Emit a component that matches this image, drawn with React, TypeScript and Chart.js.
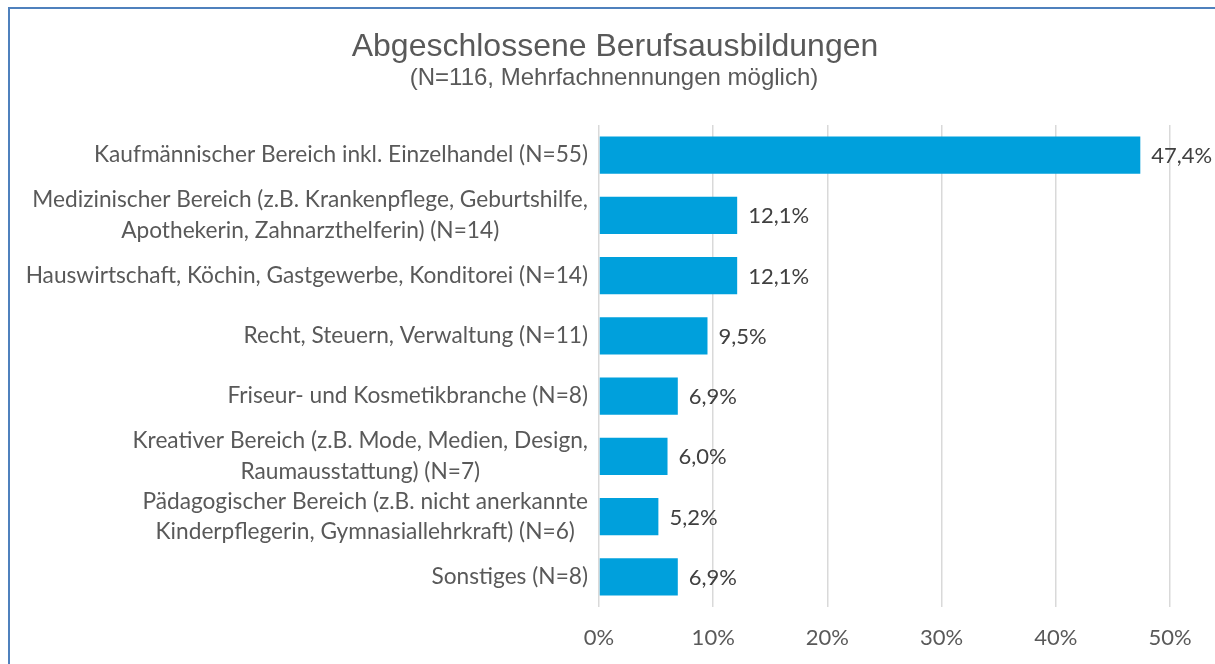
import { useEffect, useRef } from 'react';
import { Chart, registerables } from 'chart.js';

Chart.register(...registerables);

const TITLE = 'Abgeschlossene Berufsausbildungen';
const SUBTITLE = '(N=116, Mehrfachnennungen möglich)';

const categories: string[][] = [
  ['Kaufmännischer Bereich inkl. Einzelhandel (N=55)'],
  ['Medizinischer Bereich (z.B. Krankenpflege, Geburtshilfe,', 'Apothekerin, Zahnarzthelferin) (N=14)'],
  ['Hauswirtschaft, Köchin, Gastgewerbe, Konditorei (N=14)'],
  ['Recht, Steuern, Verwaltung (N=11)'],
  ['Friseur- und Kosmetikbranche (N=8)'],
  ['Kreativer Bereich (z.B. Mode, Medien, Design,', 'Raumausstattung) (N=7)'],
  ['Pädagogischer Bereich (z.B. nicht anerkannte', 'Kinderpflegerin, Gymnasiallehrkraft) (N=6)'],
  ['Sonstiges (N=8)'],
];

const values: number[] = [47.4, 12.1, 12.1, 9.5, 6.9, 6.0, 5.2, 6.9];

const X_MIN = 0;
const X_MAX = 50;
const X_STEP = 10;

const FONT = 'Lato, "Open Sans", sans-serif';
const TITLE_FONT = '"Liberation Sans", Arial, sans-serif';
const TEXT = '#595959';
const BAR = '#00A0DC';
const GRID = '#D9D9D9';

const fmt = (v: number) => v.toFixed(1).replace('.', ',') + '%';

const overlayPlugin = {
  id: 'overlay',
  afterDraw(chart: any) {
    const ctx = chart.ctx as CanvasRenderingContext2D;
    const area = chart.chartArea;
    const yScale = chart.scales.y;
    const xScale = chart.scales.x;
    ctx.save();
    // title
    ctx.fillStyle = TEXT;
    ctx.textAlign = 'center';
    ctx.textBaseline = 'middle';
    ctx.font = `32px ${TITLE_FONT}`;
    ctx.fillText(TITLE, 615, 47);
    ctx.font = `24px ${TITLE_FONT}`;
    ctx.fillText(SUBTITLE, 614, 78);

    // category labels
    ctx.font = `22.7px ${FONT}`;
    const right = area.left - 11;
    const lh = 30.5;
    categories.forEach((lines, i) => {
      const y = yScale.getPixelForValue(i);
      const maxW = Math.max(...lines.map((l) => ctx.measureText(l).width));
      const cx = right - maxW / 2;
      const y0 = y - ((lines.length - 1) * lh) / 2;
      lines.forEach((l, j) => {
        ctx.fillText(l, cx, y0 + j * lh);
      });
    });

    // data labels
    ctx.font = `22px ${FONT}`;
    ctx.textAlign = 'left';
    ctx.fillStyle = '#404040';
    values.forEach((v, i) => {
      const x = xScale.getPixelForValue(v) + 11;
      const y = yScale.getPixelForValue(i);
      ctx.fillText(fmt(v), x, y + 1);
    });
    ctx.restore();
  },
};

export default function App() {
  const ref = useRef<HTMLCanvasElement | null>(null);

  useEffect(() => {
    if (!ref.current) return;
    const chart = new Chart(ref.current, {
      type: 'bar',
      data: {
        labels: categories.map((c) => c.join(' ')),
        datasets: [
          {
            data: values,
            backgroundColor: BAR,
            borderWidth: 0,
            barPercentage: 0.615,
            categoryPercentage: 1,
          },
        ],
      },
      options: {
        indexAxis: 'y',
        animation: false,
        responsive: false,
        maintainAspectRatio: false,
        layout: { padding: { left: 0, right: 45, top: 125, bottom: 0 } },
        plugins: {
          legend: { display: false },
          title: { display: false },
          tooltip: { enabled: false },
        },
        scales: {
          x: {
            min: X_MIN,
            max: X_MAX,
            grid: { color: GRID, lineWidth: 1.5, drawTicks: false },
            border: { display: false },
            ticks: {
              stepSize: X_STEP,
              padding: 18,
              color: TEXT,
              font: { family: FONT, size: 22 },
              callback: (v: any) => `${v}%`,
            },
            afterFit: (s: any) => {
              s.height = 57;
            },
          },
          y: {
            grid: { display: false },
            border: { display: false },
            ticks: { display: false },
            afterFit: (s: any) => {
              s.width = 599;
            },
          },
        },
      },
      plugins: [overlayPlugin],
    });
    return () => chart.destroy();
  }, []);

  return (
    <div style={{ position: 'absolute', left: 0, top: 0, width: 1215, height: 664, overflow: 'hidden', background: '#fff' }}>
      <canvas ref={ref} width={1215} height={664} style={{ position: 'absolute', left: 0, top: 0 }} />
      <div
        style={{
          position: 'absolute',
          left: 8,
          top: 7,
          width: 1300,
          height: 800,
          borderLeft: '2px solid #4F81BD',
          borderTop: '2px solid #4F81BD',
          pointerEvents: 'none',
        }}
      />
    </div>
  );
}
